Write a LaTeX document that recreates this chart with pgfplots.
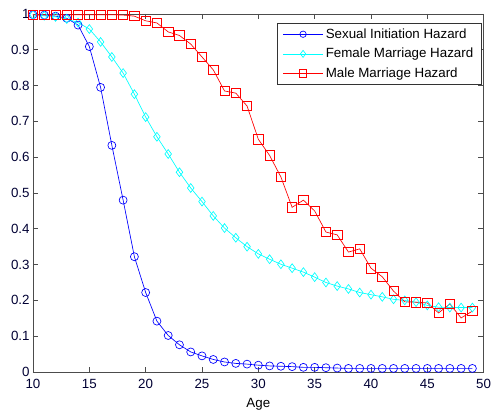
\documentclass[border=0pt]{standalone}
\usepackage{pgfplots}
\pgfplotsset{compat=1.18}
\usepackage{fontspec}
\setmainfont{Liberation Sans}
\definecolor{mblue}{rgb}{0,0,1}
\definecolor{mcyan}{rgb}{0,1,1}
\definecolor{mred}{rgb}{1,0,0}
\begin{document}
\begin{tikzpicture}
\begin{axis}[
  scale only axis,
  width=338pt, height=268.5pt,
  at={(0,0)}, anchor=south west,
  xmin=10, xmax=50, ymin=0, ymax=1,
  xtick={10,15,...,50},
  ytick={0,0.1,...,1},
  yticklabels={0,0.1,0.2,0.3,0.4,0.5,0.6,0.7,0.8,0.9,1},
  tick align=inside,
  major tick length=4pt,
  tick style={black!70, line width=0.5pt},
  axis line style={black!70, line width=0.6pt},
  ticklabel style={font=\fontsize{10}{11}\selectfont, text=black!80!blue},
  /pgf/number format/assume math mode=true,
  xticklabel style={yshift=-2pt},
  yticklabel style={xshift=1pt},
  xlabel={Age},
  xlabel style={font=\fontsize{10}{11}\selectfont, yshift=0pt},
  legend style={at={(1,1)}, anchor=north east, xshift=-1.5pt, yshift=-6.5pt,
    draw=black!80, line width=0.6pt,
    font=\fontsize{10}{12}\selectfont, inner xsep=4pt, inner ysep=2pt, row sep=2pt, cells={anchor=west}},
  legend cell align=left,
  legend image code/.code={\draw[mark repeat=2,mark phase=2] plot coordinates {(0cm,0cm)(0.52cm,0cm)(1.04cm,0cm)};},
  legend image post style={mark options={scale=0.8}},
  every axis plot/.append style={line width=0.5pt},
]
\addplot[mblue, mark=o, mark size=3pt] coordinates {
(10,0.998)(11,0.997)(12,0.994)(13,0.988)(14,0.969)(15,0.909)(16,0.795)(17,0.633)(18,0.480)(19,0.322)
(20,0.222)(21,0.142)(22,0.102)(23,0.076)(24,0.056)(25,0.045)(26,0.035)(27,0.028)(28,0.024)(29,0.022)
(30,0.019)(31,0.017)(32,0.016)(33,0.015)(34,0.013)(35,0.013)(36,0.012)(37,0.011)(38,0.010)(39,0.010)
(40,0.010)(41,0.010)(42,0.010)(43,0.010)(44,0.010)(45,0.010)(46,0.010)(47,0.010)(48,0.010)(49,0.010)};
\addlegendentry{Sexual Initiation Hazard}
\addplot[mcyan, mark=diamond, mark size=3.3pt] coordinates {
(10,0.998)(11,0.995)(12,0.992)(13,0.986)(14,0.976)(15,0.958)(16,0.922)(17,0.880)(18,0.835)(19,0.776)
(20,0.712)(21,0.657)(22,0.609)(23,0.558)(24,0.514)(25,0.476)(26,0.436)(27,0.402)(28,0.375)(29,0.350)
(30,0.330)(31,0.315)(32,0.301)(33,0.290)(34,0.279)(35,0.265)(36,0.250)(37,0.240)(38,0.232)(39,0.222)
(40,0.216)(41,0.210)(42,0.203)(43,0.200)(44,0.195)(45,0.186)(46,0.181)(47,0.180)(48,0.180)(49,0.180)};
\addlegendentry{Female Marriage Hazard}
\addplot[mred, mark=square, mark size=3.5pt] coordinates {
(10,0.998)(11,0.998)(12,0.998)(13,0.998)(14,0.998)(15,0.998)(16,0.998)(17,0.998)(18,0.997)(19,0.994)
(20,0.981)(21,0.975)(22,0.950)(23,0.940)(24,0.916)(25,0.880)(26,0.844)(27,0.785)(28,0.779)(29,0.743)
(30,0.650)(31,0.605)(32,0.545)(33,0.460)(34,0.480)(35,0.450)(36,0.391)(37,0.383)(38,0.335)(39,0.344)
(40,0.290)(41,0.266)(42,0.226)(43,0.196)(44,0.195)(45,0.193)(46,0.165)(47,0.190)(48,0.151)(49,0.170)};
\addlegendentry{Male Marriage Hazard}
\end{axis}
\pgfresetboundingbox
\path[use as bounding box] (-24.75pt,-31.5pt) rectangle (345.75pt,279pt);
\end{tikzpicture}
\end{document}
